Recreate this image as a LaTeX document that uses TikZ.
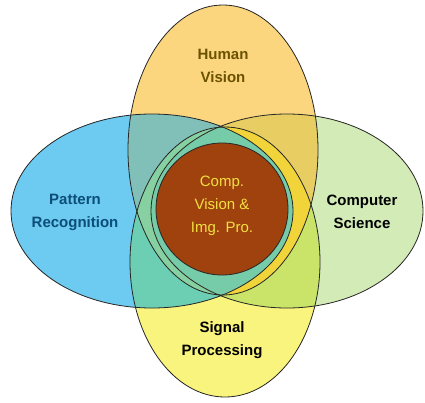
\documentclass[tikz,border=0pt]{standalone}
\usepackage{fontspec}
\setmainfont{Liberation Sans}

\definecolor{hvfill}{HTML}{FBD67F}
\definecolor{spfill}{HTML}{F9F47D}
\definecolor{prfill}{HTML}{6DCAF0}
\definecolor{csfill}{HTML}{D3EBB7}
\definecolor{hvpr}{HTML}{80C0B8}
\definecolor{sppr}{HTML}{6CCEB2}
\definecolor{hvsppr}{HTML}{86D0A2}
\definecolor{hvcs}{HTML}{E8CD62}
\definecolor{spcs}{HTML}{C9E468}
\definecolor{hvspcs}{HTML}{F0D43A}
\definecolor{allfour}{HTML}{76CBA8}
\definecolor{corefill}{HTML}{A0420E}
\definecolor{coretext}{HTML}{F2E040}
\definecolor{hvtext}{HTML}{6B5200}
\definecolor{prtext}{HTML}{0B4E7A}

\newcommand{\humanvision}{(223,150) ellipse [x radius=95, y radius=145]}
\newcommand{\signalproc}{(225,262) ellipse [x radius=95, y radius=135]}
\newcommand{\patternrec}{(152,211) ellipse [x radius=141, y radius=97]}
\newcommand{\compscience}{(287,211) ellipse [x radius=136, y radius=97]}

\tikzset{
	fieldlabel/.style={font=\bfseries\fontsize{15}{23}\selectfont, align=center},
	corelabel/.style={font=\fontsize{15}{23}\selectfont, align=center, text=coretext},
	rim/.style={draw=black!85, line width=0.8pt}
}

\begin{document}
\begin{tikzpicture}[x=1pt,y=-1pt]
	\useasboundingbox (0,0) rectangle (425,402);

	\fill[hvfill] \humanvision;
	\fill[spfill] \signalproc;
	\fill[prfill] \patternrec;
	\fill[csfill] \compscience;

	\begin{scope}
		\clip \patternrec;
		\fill[hvpr] \humanvision;
		\fill[sppr] \signalproc;
		\clip \humanvision;
		\fill[hvsppr] \signalproc;
	\end{scope}
	\begin{scope}
		\clip \compscience;
		\fill[hvcs] \humanvision;
		\fill[spcs] \signalproc;
		\clip \humanvision;
		\fill[hvspcs] \signalproc;
	\end{scope}
	\begin{scope}
		\clip \patternrec;
		\fill[allfour] \compscience;
	\end{scope}

	\draw[rim] \humanvision;
	\draw[rim] \signalproc;
	\draw[rim] \patternrec;
	\draw[rim] \compscience;

	\draw[rim, fill=corefill] (222,209) circle (66);

	\node[fieldlabel, text=hvtext] (hv) at (223,66) {Human\\Vision};
	\node[fieldlabel, text=prtext] (pr) at (75,212) {Pattern\\Recognition};
	\node[fieldlabel] (cs) at (362,212) {Computer\\Science};
	\node[fieldlabel] (sp) at (222,340) {Signal\\Processing};
	\node[corelabel] (core) at (222,206) {Comp.\\Vision \&\\Img. Pro.};
\end{tikzpicture}
\end{document}
